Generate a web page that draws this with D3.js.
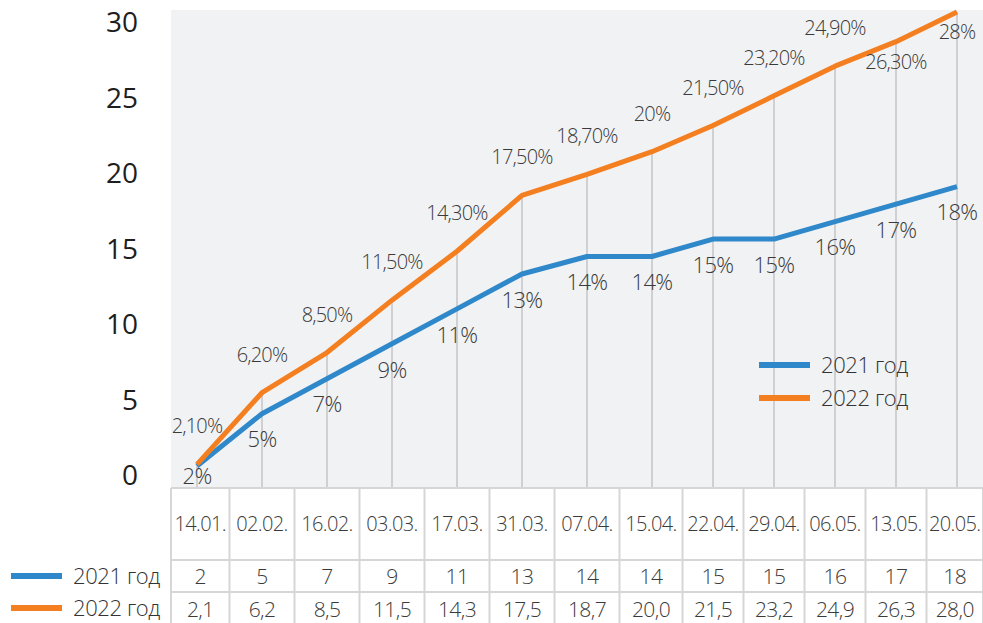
<!DOCTYPE html>
<html>
<head>
<meta charset="utf-8">
<script src="https://cdn.jsdelivr.net/npm/d3@7"></script>
<style>
  html, body { margin: 0; padding: 0; background: #ffffff; }
  svg { display: block; }
</style>
</head>
<body>
<svg id="chart" width="983" height="623"></svg>
<script>
// Weekly share of people who have had the infection, per year
const dates = ["14.01.", "02.02.", "16.02.", "03.03.", "17.03.", "31.03.", "07.04.",
               "15.04.", "22.04.", "29.04.", "06.05.", "13.05.", "20.05."];
const values2021 = [2, 5, 7, 9, 11, 13, 14, 14, 15, 15, 16, 17, 18];
const values2022 = [2.1, 6.2, 8.5, 11.5, 14.3, 17.5, 18.7, 20.0, 21.5, 23.2, 24.9, 26.3, 28.0];
const seriesNames = ["2021 год", "2022 год"];
const seriesColors = ["#2f88c9", "#f47f20"];
const yTicks = [0, 5, 10, 15, 20, 25, 30];

const W = 983, H = 623;
const plot = { left: 171, right: 983, top: 10, bottom: 488 };
const rowEdges = [488, 560, 592, 624];

const svg = d3.select("#chart");

// x: category index -> pixel; the weeks from mid-April on sit a little closer together
const x = d3.scaleLinear().domain([0, 7, dates.length - 1]).range([197, 652, 957]);
// y for the two lines
const y = d3.scaleLinear().domain([0, 28]).range([501, 12]);
// scale for the printed value axis on the left
const yAxisScale = d3.scaleLinear().domain([0, 30]).range([476, 23]);

const labelFont = "'Open Sans', 'Segoe UI', sans-serif";

// plot background
svg.append("rect")
  .attr("x", plot.left).attr("y", plot.top)
  .attr("width", plot.right - plot.left).attr("height", plot.bottom - plot.top)
  .attr("fill", "#f1f2f4");

// drop lines from the higher point of each week to the bottom of the plot
svg.append("g").selectAll("line")
  .data(dates.map((d, i) => Math.max(values2021[i], values2022[i])))
  .join("line")
  .attr("x1", (d, i) => x(i)).attr("x2", (d, i) => x(i))
  .attr("y1", d => y(d)).attr("y2", plot.bottom)
  .attr("stroke", "#d0d0d2").attr("stroke-width", 2);

// left value axis
const yAxis = svg.append("g")
  .attr("transform", "translate(138,0)")
  .call(d3.axisLeft(yAxisScale).tickValues(yTicks).tickSize(0).tickPadding(0));
yAxis.select(".domain").remove();
yAxis.selectAll("text")
  .attr("font-family", labelFont)
  .attr("font-size", 28)
  .attr("fill", "#1e1e1e");

// lines
const series = [values2021, values2022];
const line = d3.line().x((d, i) => x(i)).y(d => y(d));
svg.append("g").selectAll("path")
  .data(series)
  .join("path")
  .attr("d", line)
  .attr("fill", "none")
  .attr("stroke", (d, i) => seriesColors[i])
  .attr("stroke-width", 5)
  .attr("stroke-linejoin", "round");

// value labels
const comma = v => v.replace(".", ",");
const fmt2021 = v => v + "%";
const fmt2022 = v => Number.isInteger(v) ? v + "%" : comma(d3.format(".2f")(v)) + "%";

svg.append("g").selectAll("text")
  .data(values2021)
  .join("text")
  .attr("x", (d, i) => x(i))
  .attr("y", d => Math.min(y(d) + 26, plot.bottom - 12))
  .attr("dy", "0.35em")
  .attr("text-anchor", "middle")
  .attr("font-family", labelFont).attr("font-weight", 300)
  .attr("font-size", 22).attr("letter-spacing", -0.6)
  .attr("fill", "#3a3a3a")
  .text(fmt2021);

svg.append("g").selectAll("text")
  .data(values2022)
  .join("text")
  .attr("x", (d, i) => x(i))
  .attr("y", d => y(d) < 50 ? y(d) + 20 : y(d) - 38)
  .attr("dy", "0.35em")
  .attr("text-anchor", "middle")
  .attr("font-family", labelFont).attr("font-weight", 300)
  .attr("font-size", 20).attr("letter-spacing", -0.8)
  .attr("fill", "#3a3a3a")
  .text(fmt2022);

// legend inside the plot
const legendIn = svg.append("g").selectAll("g")
  .data(seriesNames)
  .join("g")
  .attr("transform", (d, i) => `translate(759,${365 + i * 33})`);
legendIn.append("line")
  .attr("x1", 0).attr("x2", 51)
  .attr("stroke", (d, i) => seriesColors[i]).attr("stroke-width", 6);
legendIn.append("text")
  .attr("x", 62).attr("dy", "0.35em")
  .attr("font-family", labelFont).attr("font-weight", 300)
  .attr("font-size", 22).attr("letter-spacing", -0.4)
  .attr("fill", "#333")
  .text(d => d);

// data table under the plot
const colEdges = [plot.left]
  .concat(d3.range(1, dates.length).map(i => (x(i - 1) + x(i)) / 2))
  .concat([W]);
const table = svg.append("g");
table.append("rect")
  .attr("x", plot.left).attr("y", rowEdges[0])
  .attr("width", W - plot.left).attr("height", H - rowEdges[0])
  .attr("fill", "#ffffff");
table.selectAll("line.v")
  .data(colEdges)
  .join("line")
  .attr("class", "v")
  .attr("x1", d => d).attr("x2", d => d)
  .attr("y1", rowEdges[0]).attr("y2", H)
  .attr("stroke", "#d6d6d6").attr("stroke-width", 2);
table.selectAll("line.h")
  .data(rowEdges.slice(0, 3))
  .join("line")
  .attr("class", "h")
  .attr("x1", plot.left).attr("x2", W)
  .attr("y1", d => d).attr("y2", d => d)
  .attr("stroke", "#d6d6d6").attr("stroke-width", 2);

const colCenter = i => (colEdges[i] + colEdges[i + 1]) / 2;
const tableRows = [
  { texts: dates, y: (rowEdges[0] + rowEdges[1]) / 2, size: 20 },
  { texts: values2021.map(v => String(v)), y: (rowEdges[1] + rowEdges[2]) / 2 + 1, size: 21 },
  { texts: values2022.map(v => comma(d3.format(".1f")(v))), y: (rowEdges[2] + rowEdges[3]) / 2 + 2, size: 21 }
];
tableRows.forEach(row => {
  table.append("g").selectAll("text")
    .data(row.texts)
    .join("text")
    .attr("x", (d, i) => colCenter(i))
    .attr("y", row.y)
    .attr("dy", "0.35em")
    .attr("text-anchor", "middle")
    .attr("font-family", labelFont).attr("font-weight", 300)
    .attr("font-size", row.size).attr("letter-spacing", -0.6)
    .attr("fill", "#3a3a3a")
    .text(d => d);
});

// row legend to the left of the table
const legendRow = svg.append("g").selectAll("g")
  .data(seriesNames)
  .join("g")
  .attr("transform", (d, i) => `translate(11,${(rowEdges[i + 1] + rowEdges[i + 2]) / 2})`);
legendRow.append("line")
  .attr("x1", 0).attr("x2", 51)
  .attr("stroke", (d, i) => seriesColors[i]).attr("stroke-width", 6);
legendRow.append("text")
  .attr("x", 62).attr("dy", "0.35em")
  .attr("font-family", labelFont).attr("font-weight", 300)
  .attr("font-size", 22).attr("letter-spacing", -0.4)
  .attr("fill", "#333")
  .text(d => d);
</script>
</body>
</html>
